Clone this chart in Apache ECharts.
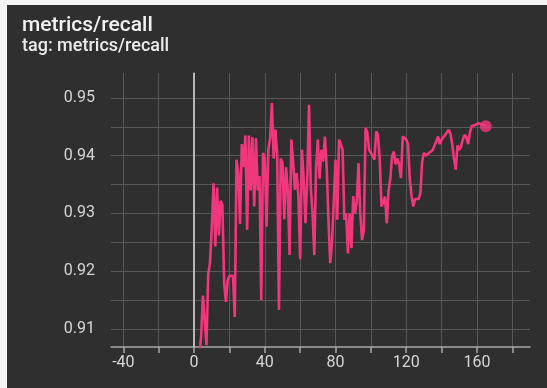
<!DOCTYPE html>
<html>
<head>
<meta charset="utf-8">
<script src="https://cdn.jsdelivr.net/npm/echarts@6/dist/echarts.min.js"></script>
<style>
html,body{margin:0;padding:0;background:#f4f4f4;}
#wrap{position:relative;width:547px;height:388px;background:#f4f4f4;overflow:hidden;}
#chart{position:absolute;left:7px;top:5px;width:540px;height:383px;}
</style>
</head>
<body>
<div id="wrap"><div id="chart"></div></div>
<script>
const titleText = 'metrics/recall';
const subText = 'tag: metrics/recall';

const steps = [
  0,1,2,3,4,5,6,7,8,9,
  10,11,12,13,14,15,16,17,18,19,
  20,21,22,23,24,25,26,27,28,29,
  30,31,32,33,34,35,36,37,38,39,
  40,41,42,43,44,45,46,47,48,49,
  50,51,52,53,54,55,56,57,58,59,
  60,61,62,63,64,65,66,67,68,69,
  70,71,72,73,74,75,76,77,78,79,
  80,81,82,83,84,85,86,87,88,89,
  90,91,92,93,94,95,96,97,98,99,
  100,101,102,103,104,105,106,107,108,109,
  110,111,112,113,114,115,116,117,118,119,
  120,121,122,123,124,125,126,127,128,129,
  130,131,132,133,134,135,136,137,138,139,
  140,141,142,143,144,145,146,147,148,149,
  150,151,152,153,154,155,156,157,158,159,
  160,161,162,163,164,165
];

const recall = [
  0.872, 0.889, 0.897, 0.9055, 0.9088, 0.9158, 0.9158, 0.9072, 0.9195, 0.9215,
  0.9275, 0.9352, 0.9243, 0.9345, 0.9262, 0.9322, 0.9315, 0.9180, 0.9147, 0.9185,
  0.9192, 0.9190, 0.9192, 0.9121, 0.9393, 0.9370, 0.9282, 0.9420, 0.9380, 0.9435,
  0.9272, 0.9435, 0.9340, 0.9432, 0.9312, 0.9430, 0.9340, 0.9365, 0.9150, 0.9405,
  0.9395, 0.9277, 0.9410, 0.9430, 0.9491, 0.9395, 0.9445, 0.9400, 0.9133, 0.9395,
  0.9387, 0.9290, 0.9380, 0.9340, 0.9228, 0.9428, 0.9390, 0.9341, 0.9370, 0.9330,
  0.9221, 0.9410, 0.9360, 0.9283, 0.9360, 0.9488, 0.9345, 0.9300, 0.9228, 0.9380,
  0.9428, 0.9360, 0.9410, 0.9390, 0.9433, 0.9380, 0.9289, 0.9214, 0.9250, 0.9320,
  0.9393, 0.9289, 0.9428, 0.9420, 0.9410, 0.9289, 0.9300, 0.9231, 0.9300, 0.9240,
  0.9330, 0.9300, 0.9320, 0.9387, 0.9300, 0.9254, 0.9270, 0.9448, 0.9440, 0.9410,
  0.9405, 0.9400, 0.9393, 0.9442, 0.9436, 0.9393, 0.9312, 0.9320, 0.9329, 0.9283,
  0.9340, 0.9360, 0.9400, 0.9407, 0.9385, 0.9395, 0.9385, 0.9361, 0.9433, 0.9430,
  0.9428, 0.9420, 0.9360, 0.9330, 0.9312, 0.9325, 0.9322, 0.9325, 0.9335, 0.9390,
  0.9405, 0.9400, 0.9402, 0.9405, 0.9407, 0.9410, 0.9413, 0.9425, 0.9433, 0.9420,
  0.9428, 0.9432, 0.9436, 0.9440, 0.9445, 0.9438, 0.9420, 0.9395, 0.9376, 0.9418,
  0.9410, 0.9416, 0.9428, 0.9436, 0.9432, 0.9420, 0.9440, 0.9451, 0.9454, 0.9453,
  0.9455, 0.9456, 0.9455, 0.9454, 0.9452, 0.9451
];

const xTicks = [-40, -20, 0, 20, 40, 60, 80, 100, 120, 140, 160, 180];
const xLabels = [-40, 0, 40, 80, 120, 160];
const yTicks = [0.91, 0.915, 0.92, 0.925, 0.93, 0.935, 0.94, 0.945, 0.95];
const yLabels = [0.91, 0.92, 0.93, 0.94, 0.95];

const lineData = steps.map((s, i) => [s, recall[i]]);
const lastPoint = [[steps[steps.length - 1], recall[recall.length - 1]]];

const chart = echarts.init(document.getElementById('chart'), null, {renderer: 'canvas'});
chart.setOption({
  backgroundColor: '#2f2f2f',
  animation: false,
  textStyle: {fontFamily: 'Roboto'},
  title: {
    text: titleText,
    subtext: subText,
    left: 10,
    top: 5,
    itemGap: 1,
    textStyle: {color: '#f2f2f2', fontSize: 21, fontWeight: 500, fontFamily: 'Roboto'},
    subtextStyle: {color: '#ececec', fontSize: 18, fontWeight: 500, fontFamily: 'Roboto'}
  },
  grid: {left: 104, right: 17, top: 68, bottom: 41},
  xAxis: {
    type: 'value',
    min: -47,
    max: 190,
    axisLine: {show: true, lineStyle: {color: '#a8a8a8', width: 1.5}},
    axisTick: {show: true, length: 6, customValues: xTicks, lineStyle: {color: '#a8a8a8', width: 1.5}},
    axisLabel: {customValues: xLabels, color: '#d6d6d6', fontSize: 16, margin: 8, fontFamily: 'Roboto'},
    splitLine: {show: true, lineStyle: {color: '#585858', width: 1}}
  },
  yAxis: {
    type: 'value',
    min: 0.9069,
    max: 0.9543,
    axisLine: {show: true, lineStyle: {color: '#a8a8a8', width: 1.5}},
    axisTick: {show: false, customValues: yTicks},
    axisLabel: {customValues: yLabels, color: '#d6d6d6', fontSize: 16, margin: 16, fontFamily: 'Roboto',
      formatter: v => v.toFixed(2)},
    splitLine: {show: true, lineStyle: {color: '#585858', width: 1}}
  },
  series: [
    {
      type: 'line',
      data: lineData,
      showSymbol: false,
      symbol: 'none',
      clip: true,
      lineStyle: {color: '#f0377c', width: 2.6},
      itemStyle: {color: '#f0377c'},
      markLine: {
        silent: true,
        symbol: 'none',
        label: {show: false},
        lineStyle: {color: '#c4c4c4', width: 1.5, type: 'solid'},
        data: [{xAxis: 0}]
      }
    },
    {
      type: 'scatter',
      data: lastPoint,
      symbol: 'circle',
      symbolSize: 12,
      itemStyle: {color: '#f0377c'}
    }
  ]
});
</script>
</body>
</html>
